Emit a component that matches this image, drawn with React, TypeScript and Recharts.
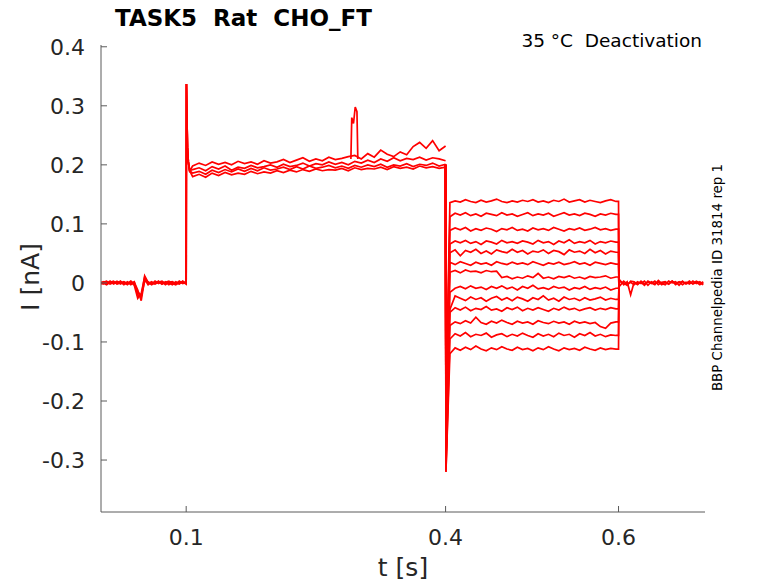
import React from "react"
import { LineChart, Line, XAxis, YAxis } from "recharts"

// sampling grids (s)
const grid = (start: number, step: number, n: number) =>
  Array.from({ length: n }, (_, i) => +(start + i * step).toFixed(5))

const baseTimes = grid(0, 0.004, 26)
const onsetTimes = [0.1003, 0.1008, 0.1015, 0.1025, 0.104]
const plateauTimes = grid(0.1075, 0.0075, 40)
const pulseTimes = grid(0.405, 0.006, 33)
const tailTimes = grid(0.602, 0.004, 25)
const bumpTimes = [0.2905, 0.2915, 0.2935, 0.2955, 0.2975, 0.2985]

// holding + step traces (nA)
const baseA = [0.001, -0.002, 0.002, -0.001, 0.0, 0.003, -0.002, 0.001, -0.003, 0.002, -0.004, -0.026, -0.018, 0.01, -0.001, 0.002, -0.002, 0.001, 0.003, -0.001, 0.0, -0.003, 0.002, -0.001, 0.001, 0.0]
const baseB = [-0.002, 0.002, -0.001, 0.003, -0.002, 0.001, 0.002, -0.003, 0.001, -0.001, 0.002, -0.02, -0.024, 0.012, 0.001, -0.002, 0.003, -0.001, 0.002, -0.003, 0.001, 0.002, -0.002, 0.003, -0.001, 0.001]
const baseC = [0.002, 0.0, -0.003, 0.001, 0.003, -0.002, 0.0, 0.002, -0.001, 0.003, -0.002, -0.015, -0.022, 0.003, 0.002, -0.003, 0.0, 0.002, -0.002, 0.001, 0.003, -0.001, -0.003, 0.001, 0.002, -0.002]
const baseD = [-0.003, 0.001, 0.003, -0.002, 0.001, -0.001, 0.003, -0.002, 0.002, -0.003, 0.001, -0.012, -0.03, 0.006, -0.003, 0.001, -0.001, 0.003, -0.002, 0.002, -0.003, 0.001, 0.0, -0.002, 0.003, -0.001]
const onsetValues = [0.337, 0.29, 0.23, 0.205, 0.19]

const plateauA = [0.186, 0.189, 0.184, 0.191, 0.187, 0.192, 0.188, 0.193, 0.189, 0.194, 0.19, 0.195, 0.191, 0.193, 0.196, 0.192, 0.197, 0.193, 0.198, 0.194, 0.196, 0.199, 0.195, 0.198, 0.194, 0.199, 0.196, 0.2, 0.197, 0.201, 0.196, 0.2, 0.198, 0.202, 0.197, 0.201, 0.199, 0.203, 0.198, 0.201]
const plateauB = [0.198, 0.203, 0.199, 0.205, 0.201, 0.204, 0.2, 0.206, 0.202, 0.205, 0.201, 0.207, 0.203, 0.205, 0.209, 0.204, 0.208, 0.212, 0.206, 0.21, 0.207, 0.213, 0.209, 0.211, 0.214, 0.216, 0.21, 0.219, 0.213, 0.225, 0.218, 0.214, 0.222, 0.217, 0.231, 0.238, 0.228, 0.241, 0.224, 0.232]
const plateauC = [0.18, 0.184, 0.179, 0.186, 0.182, 0.187, 0.183, 0.186, 0.184, 0.189, 0.185, 0.188, 0.186, 0.19, 0.187, 0.191, 0.188, 0.192, 0.189, 0.193, 0.19, 0.192, 0.191, 0.194, 0.19, 0.195, 0.192, 0.194, 0.193, 0.196, 0.192, 0.197, 0.194, 0.196, 0.193, 0.198, 0.195, 0.197, 0.194, 0.196]
const plateauD = [0.192, 0.195, 0.19, 0.197, 0.193, 0.198, 0.191, 0.196, 0.194, 0.199, 0.195, 0.197, 0.2, 0.196, 0.201, 0.197, 0.199, 0.203, 0.198, 0.202, 0.2, 0.205, 0.201, 0.204, 0.2, 0.206, 0.203, 0.208, 0.204, 0.21, 0.206, 0.212, 0.207, 0.211, 0.209, 0.213, 0.208, 0.212, 0.21, 0.207]
const bumpValues = [0.21, 0.28, 0.27, 0.298, 0.29, 0.21]

// test pulse sweeps (nA)
const dropDepths = [-0.2, -0.22, -0.24, -0.25, -0.26, -0.27, -0.28, -0.29, -0.3, -0.3, -0.31, -0.32, -0.32]
const pulses = [
  [0.136, 0.139, 0.137, 0.141, 0.138, 0.136, 0.14, 0.137, 0.139, 0.142, 0.138, 0.136, 0.139, 0.137, 0.14, 0.138, 0.141, 0.137, 0.139, 0.136, 0.14, 0.138, 0.142, 0.137, 0.139, 0.141, 0.137, 0.14, 0.138, 0.136, 0.139, 0.141, 0.138],
  [0.112, 0.118, 0.115, 0.119, 0.114, 0.117, 0.113, 0.118, 0.116, 0.114, 0.119, 0.115, 0.117, 0.113, 0.116, 0.119, 0.114, 0.117, 0.115, 0.118, 0.113, 0.116, 0.119, 0.115, 0.117, 0.114, 0.118, 0.116, 0.113, 0.117, 0.115, 0.118, 0.116],
  [0.089, 0.093, 0.09, 0.094, 0.088, 0.092, 0.089, 0.093, 0.091, 0.087, 0.092, 0.09, 0.094, 0.089, 0.091, 0.088, 0.093, 0.09, 0.092, 0.089, 0.094, 0.091, 0.088, 0.092, 0.09, 0.093, 0.089, 0.091, 0.094, 0.09, 0.092, 0.089, 0.091],
  [0.066, 0.071, 0.068, 0.072, 0.067, 0.07, 0.065, 0.071, 0.069, 0.066, 0.072, 0.068, 0.07, 0.067, 0.071, 0.069, 0.066, 0.072, 0.068, 0.07, 0.065, 0.071, 0.068, 0.073, 0.067, 0.07, 0.068, 0.072, 0.066, 0.07, 0.068, 0.071, 0.069],
  [0.051, 0.056, 0.046, 0.055, 0.052, 0.057, 0.05, 0.054, 0.049, 0.056, 0.053, 0.051, 0.057, 0.052, 0.055, 0.049, 0.054, 0.052, 0.056, 0.05, 0.055, 0.053, 0.048, 0.056, 0.052, 0.054, 0.05, 0.057, 0.051, 0.055, 0.049, 0.054, 0.052],
  [0.035, 0.031, 0.036, 0.033, 0.03, 0.035, 0.032, 0.034, 0.03, 0.036, 0.033, 0.031, 0.035, 0.032, 0.034, 0.031, 0.036, 0.033, 0.03, 0.034, 0.032, 0.035, 0.031, 0.033, 0.036, 0.032, 0.034, 0.03, 0.035, 0.033, 0.031, 0.034, 0.032],
  [0.018, 0.021, 0.017, 0.022, 0.019, 0.02, 0.017, 0.021, 0.019, 0.02, 0.009, 0.011, 0.007, 0.01, 0.008, 0.012, 0.009, 0.016, 0.008, 0.01, 0.007, 0.011, 0.009, 0.012, 0.008, 0.01, 0.007, 0.011, 0.009, 0.01, 0.012, 0.008, 0.01],
  [-0.016, -0.009, -0.006, -0.01, -0.005, -0.009, -0.007, -0.011, -0.006, -0.009, -0.005, -0.01, -0.007, -0.012, -0.006, -0.009, -0.004, -0.01, -0.008, -0.011, -0.006, -0.009, -0.007, -0.012, -0.008, -0.01, -0.006, -0.011, -0.008, -0.01, -0.007, -0.012, -0.009],
  [-0.045, -0.022, -0.026, -0.03, -0.024, -0.028, -0.025, -0.031, -0.026, -0.023, -0.029, -0.025, -0.03, -0.024, -0.027, -0.031, -0.025, -0.028, -0.022, -0.029, -0.026, -0.031, -0.024, -0.028, -0.026, -0.03, -0.025, -0.029, -0.027, -0.024, -0.029, -0.026, -0.028],
  [-0.05, -0.042, -0.046, -0.041, -0.047, -0.043, -0.045, -0.04, -0.046, -0.044, -0.048, -0.042, -0.045, -0.041, -0.047, -0.043, -0.046, -0.042, -0.045, -0.048, -0.043, -0.046, -0.041, -0.045, -0.043, -0.047, -0.044, -0.042, -0.046, -0.043, -0.045, -0.042, -0.044],
  [-0.072, -0.066, -0.069, -0.064, -0.068, -0.058, -0.067, -0.07, -0.065, -0.068, -0.063, -0.067, -0.07, -0.065, -0.068, -0.066, -0.07, -0.064, -0.067, -0.069, -0.065, -0.068, -0.066, -0.07, -0.065, -0.068, -0.066, -0.069, -0.067, -0.074, -0.077, -0.068, -0.066],
  [-0.095, -0.086, -0.09, -0.084, -0.091, -0.087, -0.089, -0.085, -0.092, -0.088, -0.086, -0.091, -0.087, -0.09, -0.085, -0.089, -0.092, -0.086, -0.09, -0.087, -0.091, -0.085, -0.089, -0.087, -0.092, -0.086, -0.089, -0.084, -0.09, -0.087, -0.091, -0.088, -0.089],
  [-0.12, -0.11, -0.114, -0.109, -0.113, -0.107, -0.112, -0.115, -0.11, -0.113, -0.108, -0.112, -0.114, -0.109, -0.113, -0.111, -0.115, -0.11, -0.113, -0.108, -0.112, -0.115, -0.11, -0.113, -0.111, -0.114, -0.109, -0.112, -0.114, -0.11, -0.113, -0.111, -0.112],
]

const tailA = [0.004, -0.003, 0.002, -0.02, 0.001, -0.003, 0.003, -0.002, 0.002, -0.001, 0.003, -0.003, 0.001, 0.002, -0.002, 0.003, -0.001, 0.002, -0.003, 0.001, -0.002, 0.003, -0.001, 0.002, -0.002]
const tailB = [-0.004, 0.003, -0.002, 0.001, -0.003, 0.002, -0.001, 0.003, -0.004, 0.002, -0.001, 0.002, -0.003, 0.001, -0.002, 0.003, -0.003, 0.001, 0.002, -0.001, 0.003, -0.002, 0.001, -0.003, 0.002]
const tailC = [0.002, 0.0, -0.004, 0.003, 0.002, -0.002, 0.001, -0.004, 0.003, 0.0, -0.003, 0.004, -0.001, -0.003, 0.003, 0.0, 0.002, -0.004, 0.003, -0.002, 0.001, -0.001, 0.003, 0.0, -0.003]

const yTicks = [-0.3, -0.2, -0.1, 0, 0.1, 0.2, 0.3, 0.4]
const xTicks = [0.1, 0.4, 0.6]

const pts = (ts: number[], vs: number[]) => ts.map((t, i) => ({ t, v: vs[i] }))

const preTraces = [
  [baseA, plateauA],
  [baseB, plateauB],
  [baseC, plateauC],
  [baseD, plateauD],
].map(([b, p]) => [...pts(baseTimes, b), ...pts(onsetTimes, onsetValues), ...pts(plateauTimes, p)])

const sweeps = pulses.map((vals, i) => [
  { t: 0.4, v: 0.2 },
  { t: 0.4004, v: dropDepths[i] },
  ...pts(pulseTimes, vals),
  { t: 0.6, v: vals[vals.length - 1] },
  { t: 0.6005, v: -0.004 },
])

const tails = [tailA, tailB, tailC].map((vals) => [{ t: 0.6, v: 0 }, ...pts(tailTimes, vals)])

const RED = "#ff0000"
const AXIS = "#5a5a5a"
const TEXT = "#262626"
const FONT = "'DejaVu Sans', sans-serif"
const SW = 1.7

const YTick = (props: any) => {
  const { y, payload } = props
  return (
    <g>
      <line x1={101} x2={107} y1={y} y2={y} stroke={AXIS} />
      <text x={85} y={y} dy={8} textAnchor="end" fontSize={22} fill={TEXT} fontFamily={FONT}>
        {payload.value === 0 ? "0" : payload.value.toFixed(1)}
      </text>
    </g>
  )
}

const XTick = (props: any) => {
  const { x, payload } = props
  return (
    <g>
      <line x1={x} x2={x} y1={512} y2={506} stroke={AXIS} />
      <text x={x} y={545} textAnchor="middle" fontSize={22} fill={TEXT} fontFamily={FONT}>
        {payload.value.toFixed(1)}
      </text>
    </g>
  )
}

export default function App() {
  return (
    <div style={{ position: "absolute", left: 0, top: 0, width: 778, height: 583, background: "#fff" }}>
      <LineChart width={778} height={583} margin={{ top: 45, right: 73, bottom: 0, left: 0 }}>
        <XAxis
          type="number"
          dataKey="t"
          domain={[0.0015, 0.7]}
          ticks={xTicks}
          allowDataOverflow
          height={71}
          stroke={AXIS}
          tickLine={false}
          tickSize={0}
          tick={<XTick />}
        />
        <YAxis
          type="number"
          dataKey="v"
          domain={[-0.388, 0.403]}
          ticks={yTicks}
          allowDataOverflow
          width={101}
          stroke={AXIS}
          tickLine={false}
          tickSize={0}
          tick={<YTick />}
        />
        {preTraces.map((d, i) => (
          <Line key={"pre" + i} data={d} dataKey="v" stroke={RED} strokeWidth={SW} dot={false} isAnimationActive={false} />
        ))}
        <Line data={pts(bumpTimes, bumpValues)} dataKey="v" stroke={RED} strokeWidth={SW} dot={false} isAnimationActive={false} />
        {sweeps.map((d, i) => (
          <Line key={"sw" + i} data={d} dataKey="v" stroke={RED} strokeWidth={SW} dot={false} isAnimationActive={false} />
        ))}
        {tails.map((d, i) => (
          <Line key={"tail" + i} data={d} dataKey="v" stroke={RED} strokeWidth={SW} dot={false} isAnimationActive={false} />
        ))}
      </LineChart>
      <svg width={778} height={583} style={{ position: "absolute", left: 0, top: 0, pointerEvents: "none" }}>
        <text x={115} y={26} fontSize={23} fontWeight="bold" fill="#000" fontFamily={FONT} style={{ whiteSpace: "pre" }}>
          {"TASK5  Rat  CHO_FT"}
        </text>
        <text x={702} y={47} textAnchor="end" fontSize={18.5} fill="#000" fontFamily={FONT} style={{ whiteSpace: "pre" }}>
          {"35 °C  Deactivation"}
        </text>
        <text
          x={0}
          y={0}
          transform="translate(722,277.5) rotate(-90)"
          textAnchor="middle"
          fontSize={13.4}
          fill="#000"
          fontFamily={FONT}
        >
          BBP Channelpedia ID 31814 rep 1
        </text>
        <text x={0} y={0} transform="translate(39,277) rotate(-90)" textAnchor="middle" fontSize={25} fill={TEXT} fontFamily={FONT}>
          I [nA]
        </text>
        <text x={403} y={576} textAnchor="middle" fontSize={25} fill={TEXT} fontFamily={FONT}>
          t [s]
        </text>
      </svg>
    </div>
  )
}
